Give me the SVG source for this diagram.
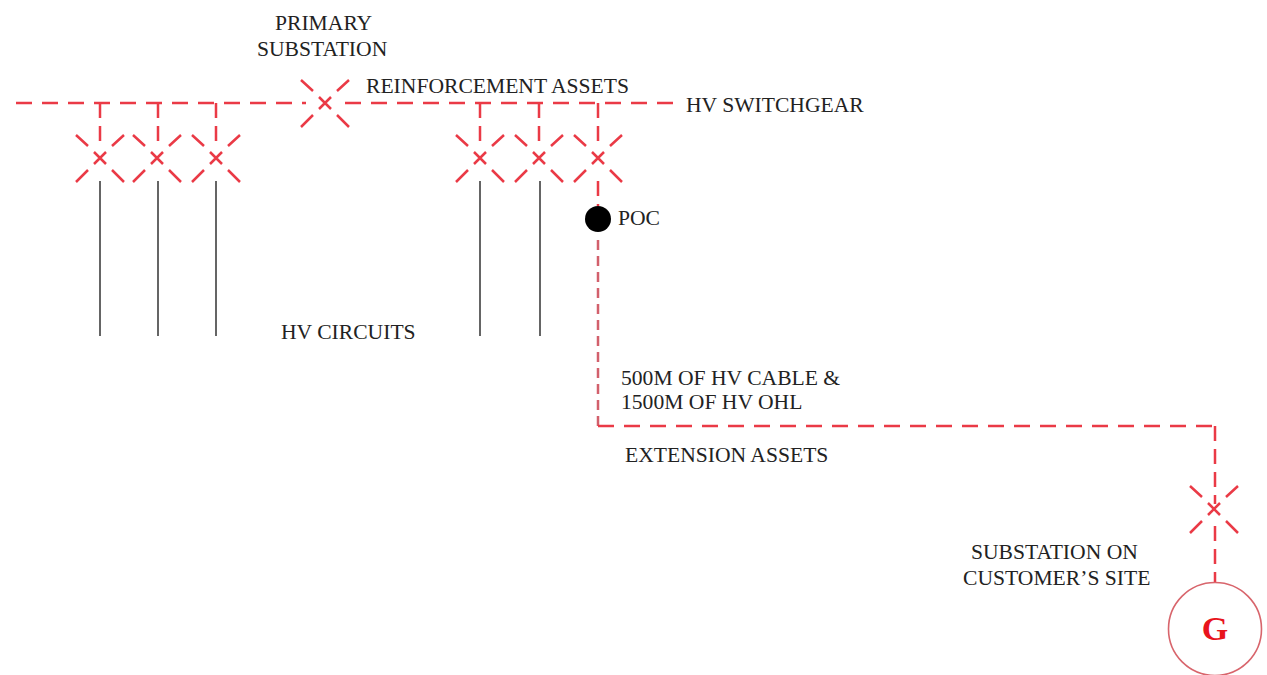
<svg xmlns="http://www.w3.org/2000/svg" width="1267" height="675" viewBox="0 0 1267 675">
<style>
.d{fill:none;stroke:#ea3a46;stroke-width:2.5;stroke-dasharray:16 10}
.v{fill:none;stroke:#ea3a46;stroke-width:2.5;stroke-dasharray:15 8}
.p{fill:none;stroke:#d2606c;stroke-width:2.5;stroke-dasharray:10 6}
.s{fill:none;stroke:#555;stroke-width:1.800}
.x{fill:none;stroke:#ea3a46;stroke-width:2.5}
.t{font-family:"Liberation Serif","Times New Roman",serif;font-size:21.6px;fill:#222}
.g{font-family:"Liberation Serif","Times New Roman",serif;font-size:34px;font-weight:bold;fill:#e8141c;text-anchor:middle}
</style>
<defs>
<g id="sw"><path class="x" d="M-6-6L6 6M-6 6L6-6M-24-23L-12-12M24-23L12-12M-24 24L-12 12M24 24L12 12"/></g>
</defs>
<g id="connectors">
<path class="d" d="M16 103H306"/>
<path class="d" d="M345 103H675"/>
<path class="v" d="M100 103V143M158 103V143M216 103V143M480 103V143M539 103V143M598 103V143"/>
<path class="v" d="M598 181V206"/>
<path class="p" d="M598 240V426"/>
<path class="d" d="M598 426H1215"/>
<path class="v" d="M1215 426V504"/>
<path class="v" d="M1215 526V582"/>
<path class="s" d="M100 181V336M158 181V336M216 181V336M480 181V336M540 181V336"/>
</g>
<g id="primary-substation"><use href="#sw" x="325" y="103"/>
<text class="t" x="275" y="30">PRIMARY</text><text class="t" x="257" y="56">SUBSTATION</text></g>
<g id="sw-1"><use href="#sw" x="100" y="158"/></g>
<g id="sw-2"><use href="#sw" x="157" y="158"/></g>
<g id="sw-3"><use href="#sw" x="216" y="158"/></g>
<g id="sw-4"><use href="#sw" x="480" y="158"/></g>
<g id="sw-5"><use href="#sw" x="539" y="158"/></g>
<g id="sw-6"><use href="#sw" x="598" y="158"/></g>
<g id="poc"><circle cx="598" cy="219" r="13" fill="#000"/><text class="t" x="618" y="225">POC</text></g>
<g id="customer-substation"><use href="#sw" x="1214" y="509"/>
<text class="t" x="971" y="559">SUBSTATION ON</text><text class="t" x="963" y="585">CUSTOMER’S SITE</text></g>
<g id="generator"><circle cx="1215" cy="629" r="46.500" fill="#fff" stroke="#d8656c" stroke-width="1.600"/><text class="g" x="1215" y="640">G</text></g>
<g id="labels">
<text class="t" x="366" y="93">REINFORCEMENT ASSETS</text>
<text class="t" x="686" y="112">HV SWITCHGEAR</text>
<text class="t" x="281" y="339">HV CIRCUITS</text>
<text class="t" x="621" y="385">500M OF HV CABLE &amp;</text>
<text class="t" x="621" y="409">1500M OF HV OHL</text>
<text class="t" x="625" y="462">EXTENSION ASSETS</text>
</g>
</svg>
